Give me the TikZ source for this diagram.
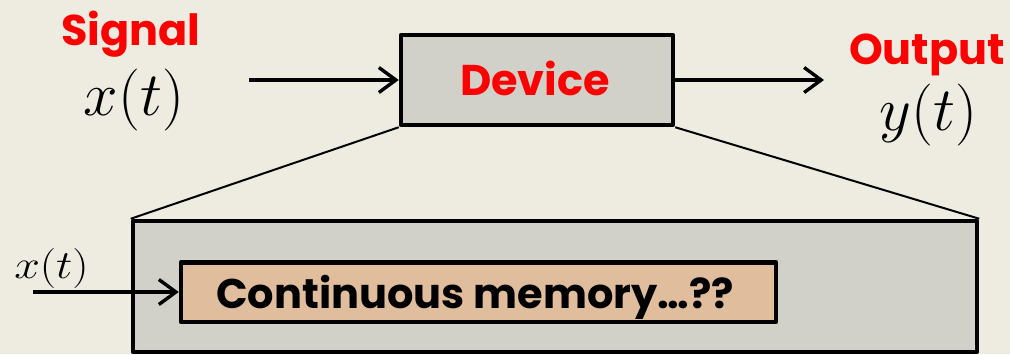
\RequirePackage{fix-cm}
\documentclass[tikz,border=0pt]{standalone}
\usepackage{fontspec}
\usetikzlibrary{arrows.meta}
\newfontfamily\comicfont{Poppins}
\definecolor{paper}{HTML}{EEECE1}
\definecolor{boxgray}{HTML}{D1D1C9}
\definecolor{tan}{HTML}{DFBD9D}
\tikzset{
  blockbox/.style={draw=black, line width=4.5pt, line join=round, fill=boxgray, inner sep=0pt},
  membox/.style={draw=black, line width=4.5pt, line join=round, fill=tan, inner sep=0pt},
  redlabel/.style={text=red, font=\comicfont\bfseries\fontsize{43}{50}\selectfont, anchor=base, inner sep=0pt},
  mathbig/.style={font=\fontsize{62}{68}\selectfont, anchor=base, inner sep=0pt},
  flow/.style={line width=3.4pt, -{Straight Barb[length=17pt,width=25pt,line width=3.4pt]}},
  zoomline/.style={line width=2pt}
}
\begin{document}
\begin{tikzpicture}[x=1pt, y=-1pt]
  \useasboundingbox[fill=paper] (0,0) rectangle (1010,354);

  % top-level block
  \node[blockbox, minimum width=272pt, minimum height=90pt] (dev) at (537,80) {};
  \node[redlabel] (devtxt) at (535,95) {Device};

  % signal side
  \node[redlabel] (sig) at (131,45) {Signal};
  \node[mathbig] (xt) at (134,115) {$x(t)$};
  \coordinate (src) at (249,80);
  \draw[flow] (src) -- (dev.west);

  % output side
  \node[redlabel] (outl) at (927,64) {Output};
  \node[mathbig] (yt) at (928.5,130) {$y(t)$};
  \coordinate (dst) at (824,80);
  \draw[flow] (dev.east) -- (dst);

  % expanded view of the block
  \node[blockbox, minimum width=844pt, minimum height=131pt] (big) at (555,286.5) {};
  \draw[zoomline] (dev.south west) -- (big.north west);
  \draw[zoomline] (dev.south east) -- (big.north east);

  \node[membox, minimum width=595pt, minimum height=59.5pt] (mem) at (478.5,292) {};
  \node[font=\comicfont\bfseries\fontsize{41.5}{46}\selectfont, anchor=base, inner sep=0pt] (memtxt) at (475,308) {Continuous memory…??};

  % inner input
  \node[font=\fontsize{40}{44}\selectfont, anchor=base, inner sep=0pt, xscale=1.15] (xin) at (51.5,278.5) {$x(t)$};
  \coordinate (isrc) at (33,292);
  \draw[flow] (isrc) -- (mem.west);
\end{tikzpicture}
\end{document}
